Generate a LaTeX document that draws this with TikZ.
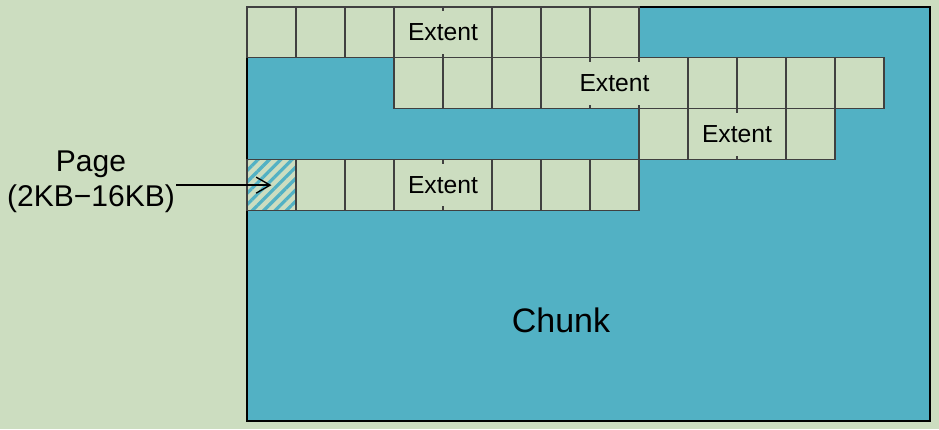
\documentclass[tikz,border=0pt]{standalone}
\usepackage{fontspec}
\setmainfont{Liberation Sans}
\usetikzlibrary{arrows.meta, patterns.meta}
\definecolor{bggreen}{RGB}{204,221,192}
\definecolor{chunkblue}{RGB}{82,177,196}
\tikzstyle{cell} = [rectangle, draw=black!75, line width=0.8pt, fill=bggreen,
    minimum width=36.75pt, minimum height=38.2pt, inner sep=0pt, outer sep=0pt]
\tikzstyle{extent} = [rectangle, fill=bggreen, inner sep=0pt,
    minimum width=60pt, minimum height=32pt, font=\fontsize{18.5}{22}\selectfont]

\begin{document}
\begin{tikzpicture}[
x=0.75pt, y=-0.75pt,
hatched/.style = {cell, fill=none, preaction={fill=bggreen},
    pattern={Lines[angle=45, distance=6pt, line width=2.4pt]}, pattern color=chunkblue},
pagearrow/.style = {-{Straight Barb[length=10.5pt, width=12pt, line width=1pt]}, line width=1pt}
                        ]
\fill[bggreen] (0,0) rectangle (939,429);
\node [rectangle, draw=black, line width=0.8pt, fill=chunkblue, minimum width=512.25pt,
    minimum height=310.5pt, inner sep=0pt] (chunk) at (588.5,214) {};
\node [font=\fontsize{25.5}{30}\selectfont] (chunklabel) at (561,320) {Chunk};
\foreach \c in {0,...,7}
    \node [cell] (a\c) at ({271.5+49*\c},32.45) {};
\foreach \c in {3,...,12}
    \node [cell] (b\c) at ({271.5+49*\c},83.35) {};
\foreach \c in {8,...,11}
    \node [cell] (c\c) at ({271.5+49*\c},134.25) {};
\node [hatched] (d0) at (271.5,185.15) {};
\foreach \c in {1,...,7}
    \node [cell] (d\c) at ({271.5+49*\c},185.15) {};
\node [extent] (ext1) at (a3.east) {Extent};
\node [extent] (ext2) at (b7) {Extent};
\node [extent] (ext3) at (c9.east) {Extent};
\node [extent] (ext4) at (d3.east) {Extent};
\node [align=center, inner sep=1pt, font=\fontsize{22.5}{26}\selectfont] (page) at (91,182)
    {Page\\(2KB−16KB)};
\draw [pagearrow] (page.east |- d0.center) -- (d0.center);
\end{tikzpicture}
\end{document}
